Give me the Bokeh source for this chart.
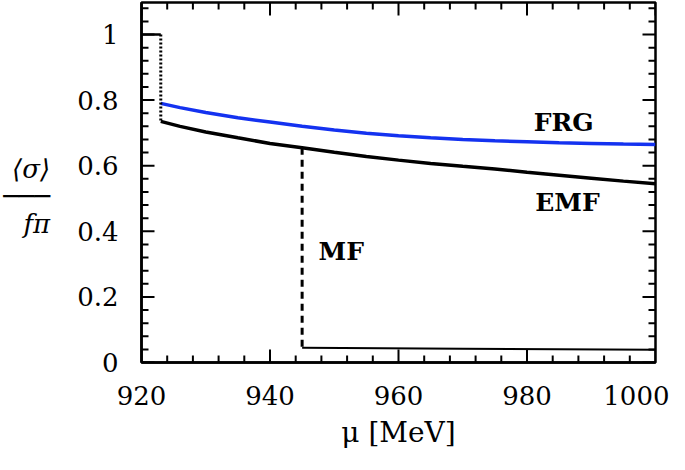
import math
from bokeh.plotting import figure
from bokeh.models import LinearAxis, FixedTicker, Range1d, Label
from bokeh.embed import file_html
from bokeh.resources import INLINE

# ---- data ----
mu_emf = [923, 926, 930, 935, 940, 945, 950, 955, 960, 965, 970, 975, 980, 985, 990, 995, 1000]
sigma_emf = [0.735, 0.720, 0.703, 0.685, 0.668, 0.655, 0.641, 0.628, 0.617, 0.607, 0.598,
             0.590, 0.580, 0.571, 0.562, 0.553, 0.545]
mu_frg = [923, 926, 930, 935, 940, 945, 950, 955, 960, 965, 970, 975, 980, 985, 990, 995, 1000]
sigma_frg = [0.790, 0.777, 0.762, 0.746, 0.733, 0.720, 0.709, 0.699, 0.691, 0.685, 0.680,
             0.676, 0.673, 0.670, 0.668, 0.666, 0.665]
mu_vac = [920, 923]
sigma_vac = [1.0, 1.0]
mu_jump_emf = [923, 923]
sigma_jump_emf = [1.0, 0.735]
mu_jump_mf = [945, 945]
sigma_jump_mf = [0.655, 0.045]
mu_mf = [945, 970, 1000]
sigma_mf = [0.045, 0.042, 0.039]

x_ticks = [920, 940, 960, 980, 1000]
x_minor = [924, 928, 932, 936, 944, 948, 952, 956, 964, 968, 972, 976, 984, 988, 992, 996]
y_ticks = [0, 0.2, 0.4, 0.6, 0.8, 1.0]
y_minor = [0.04, 0.08, 0.12, 0.16, 0.24, 0.28, 0.32, 0.36, 0.44, 0.48, 0.52, 0.56,
           0.64, 0.68, 0.72, 0.76, 0.84, 0.88, 0.92, 0.96, 1.04, 1.08]
y_labels = {0: "0", 0.2: "0.2", 0.4: "0.4", 0.6: "0.6", 0.8: "0.8", 1: "1"}

X0, X1 = 920, 1000
Y0, Y1 = 0, 1.0976

FONT = "DejaVu Serif"
TICK_SIZE = "26px"

p = figure(width=669, height=462, output_backend="svg", toolbar_location=None,
           x_range=Range1d(X0, X1), y_range=Range1d(Y0, Y1),
           x_axis_type=None, y_axis_type=None,
           min_border_left=140, min_border_right=14, min_border_top=2, min_border_bottom=100)
p.grid.visible = False
p.outline_line_color = "black"
p.outline_line_width = 2.5
p.background_fill_color = "white"
p.border_fill_color = "white"


def make_axis(ticks, overrides=None):
    ax = LinearAxis(ticker=FixedTicker(ticks=ticks))
    ax.axis_line_color = "black"
    ax.axis_line_width = 2.5
    ax.major_tick_in = 0
    ax.major_tick_out = 0
    ax.minor_tick_in = 0
    ax.minor_tick_out = 0
    ax.major_label_text_font = FONT
    ax.major_label_text_font_size = TICK_SIZE
    ax.major_label_text_color = "black"
    ax.major_label_standoff = 23
    if overrides:
        ax.major_label_overrides = overrides
    return ax


xaxis = make_axis(x_ticks)
xaxis.axis_label = "\u03bc [MeV]"
xaxis.axis_label_text_font = FONT
xaxis.axis_label_text_font_size = "28px"
xaxis.axis_label_text_font_style = "normal"
xaxis.axis_label_text_color = "black"
xaxis.axis_label_standoff = 8
p.add_layout(xaxis, "below")

yaxis = make_axis(y_ticks, y_labels)
yaxis.axis_label = " \n\u27e8\u03c3\u27e9\n\u2500\u2500\u2500\nf\u03c0"
yaxis.axis_label_orientation = "horizontal"
yaxis.axis_label_text_font = FONT
yaxis.axis_label_text_font_size = "26px"
yaxis.axis_label_text_font_style = "italic"
yaxis.axis_label_text_color = "black"
yaxis.axis_label_text_align = "center"
yaxis.axis_label_text_line_height = 0.92
yaxis.axis_label_standoff = 24
p.add_layout(yaxis, "left")

# inward ticks on all four sides (dash markers centred on the frame edge; outer half is clipped)
tick_style = dict(marker="dash", line_color="black", line_width=2)
for ys in (Y0, Y1):
    p.scatter(x_ticks, [ys] * len(x_ticks), size=26, angle=math.pi / 2, **tick_style)
    p.scatter(x_minor, [ys] * len(x_minor), size=14, angle=math.pi / 2, **tick_style)
for xs in (X0, X1):
    p.scatter([xs] * len(y_ticks), y_ticks, size=26, **tick_style)
    p.scatter([xs] * len(y_minor), y_minor, size=14, **tick_style)

# curves
p.line(mu_frg, sigma_frg, line_color="#1432f0", line_width=3.5)
p.line(mu_emf, sigma_emf, line_color="black", line_width=3.5)
p.line(mu_vac, sigma_vac, line_color="black", line_width=2.5)
p.line(mu_jump_emf, sigma_jump_emf, line_color="black", line_width=3, line_dash="2 2")
p.line(mu_jump_mf, sigma_jump_mf, line_color="black", line_width=3, line_dash="7 5")
p.line(mu_mf, sigma_mf, line_color="black", line_width=2)

# curve labels
for txt, xx, yy in [("FRG", 985.7, 0.732), ("EMF", 986.3, 0.488), ("MF", 951.1, 0.338)]:
    p.add_layout(Label(x=xx, y=yy, text=txt, text_font=FONT, text_font_size="25px",
                       text_font_style="bold", text_align="center", text_baseline="middle",
                       text_color="black"))

open("out.html", "w").write(file_html(p, INLINE))
